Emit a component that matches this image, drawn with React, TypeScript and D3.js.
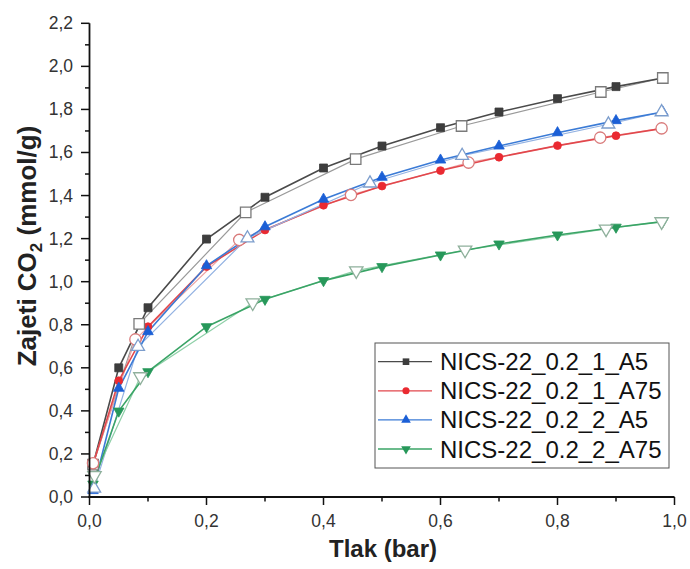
import React from "react";
import * as d3 from "d3";

const W = 690;
const H = 569;

const adsX = [0.006, 0.05, 0.1, 0.2, 0.3, 0.4, 0.5, 0.6, 0.7, 0.8, 0.9, 0.98];
const s1Ads = [0.15, 0.6, 0.879, 1.198, 1.392, 1.528, 1.63, 1.715, 1.788, 1.85, 1.906, 1.946];
const s2Ads = [0.15, 0.54, 0.791, 1.07, 1.24, 1.355, 1.444, 1.516, 1.578, 1.632, 1.678, 1.712];
const s3Ads = [0.03, 0.505, 0.768, 1.074, 1.255, 1.383, 1.485, 1.565, 1.63, 1.692, 1.748, 1.788];
const s4Ads = [0.06, 0.399, 0.582, 0.791, 0.918, 1.005, 1.07, 1.124, 1.175, 1.217, 1.253, 1.279];

const s1DesX = [0.98, 0.874, 0.636, 0.455, 0.267, 0.085, 0.006];
const s1Des = [1.946, 1.881, 1.723, 1.569, 1.322, 0.804, 0.15];
const s2DesX = [0.978, 0.873, 0.648, 0.447, 0.256, 0.0785, 0.006];
const s2Des = [1.712, 1.669, 1.553, 1.403, 1.194, 0.732, 0.157];
const s3DesX = [0.978, 0.887, 0.637, 0.4795, 0.27, 0.083, 0.008];
const s3Des = [1.788, 1.731, 1.585, 1.457, 1.202, 0.698, 0.04];
const s4DesX = [0.978, 0.883, 0.642, 0.456, 0.279, 0.087, 0.0085];
const s4Des = [1.279, 1.245, 1.147, 1.051, 0.902, 0.559, 0.1];

const seriesNames = [
  "NICS-22_0.2_1_A5",
  "NICS-22_0.2_1_A75",
  "NICS-22_0.2_2_A5",
  "NICS-22_0.2_2_A75",
];

const xTicks = [0, 0.2, 0.4, 0.6, 0.8, 1.0];
const yTicks = [0, 0.2, 0.4, 0.6, 0.8, 1.0, 1.2, 1.4, 1.6, 1.8, 2.0, 2.2];

const FONT = "'Liberation Sans', Arial, Helvetica, sans-serif";

type Style = {
  shape: "square" | "circle" | "up" | "down";
  line: string;
  marker: string;
  desLine: string;
  desMarker: string;
};

const styles: Style[] = [
  { shape: "square", line: "#4a4a4a", marker: "#3d3d3d", desLine: "#9a9a9a", desMarker: "#7a7a7a" },
  { shape: "circle", line: "#e2474c", marker: "#ea2a31", desLine: "#eca3a3", desMarker: "#d97b7b" },
  { shape: "up", line: "#3b7bd6", marker: "#1b5fd6", desLine: "#93b2e2", desMarker: "#7c9dcc" },
  { shape: "down", line: "#3aa466", marker: "#27985a", desLine: "#8fd0a8", desMarker: "#8fb09c" },
];

function symbolPath(shape: Style["shape"], size: number): { d: string; rot: number } {
  let type: d3.SymbolType = d3.symbolSquare;
  let rot = 0;
  if (shape === "circle") type = d3.symbolCircle;
  if (shape === "up") type = d3.symbolTriangle;
  if (shape === "down") {
    type = d3.symbolTriangle;
    rot = 180;
  }
  return { d: d3.symbol().type(type).size(size)() || "", rot };
}

const filledSize: Record<Style["shape"], number> = { square: 64, circle: 48, up: 48, down: 48 };
const openSize: Record<Style["shape"], number> = { square: 110, circle: 100, up: 72, down: 78 };

export default function App() {
  const x = d3.scaleLinear().domain([0, 1]).range([89.5, 674.5]);
  const y = d3.scaleLinear().domain([0, 2.2]).range([497, 23.3]);

  const ads = [s1Ads, s2Ads, s3Ads, s4Ads];
  const desX = [s1DesX, s2DesX, s3DesX, s4DesX];
  const des = [s1Des, s2Des, s3Des, s4Des];

  const line = d3
    .line<[number, number]>()
    .x((d) => x(d[0]))
    .y((d) => y(d[1]));

  const minorX = d3.range(0, 1.0001, 0.1);
  const minorY = d3.range(0, 2.2001, 0.1);

  const fmt = (v: number) => v.toFixed(1).replace(".", ",");

  return (
    <svg
      width={W}
      height={H}
      style={{ position: "absolute", left: 0, top: 0, background: "#fff" }}
      fontFamily={FONT}
    >
      <rect x={0} y={0} width={W} height={H} fill="#fff" />
      {/* lines */}
      {ads.map((vals, i) => {
        const st = styles[i];
        const adsPts: [number, number][] = adsX.map((xv, j) => [xv, vals[j]]);
        const desPts: [number, number][] = desX[i].map((xv, j) => [xv, des[i][j]]);
        return (
          <g key={"l" + i}>
            <path d={line(desPts) || ""} fill="none" stroke={st.desLine} strokeWidth={1.2} />
            <path d={line(adsPts) || ""} fill="none" stroke={st.line} strokeWidth={1.6} />
          </g>
        );
      })}
      {/* filled markers */}
      {ads.map((vals, i) => {
        const st = styles[i];
        const sym = symbolPath(st.shape, filledSize[st.shape]);
        return (
          <g key={"f" + i}>
            {adsX.map((xv, j) => (
              <path
                key={j}
                d={sym.d}
                transform={`translate(${x(xv)},${y(vals[j])}) rotate(${sym.rot})`}
                fill={st.marker}
                stroke={st.marker}
                strokeWidth={0.8}
              />
            ))}
          </g>
        );
      })}
      {/* open markers */}
      {des.map((vals, i) => {
        const st = styles[i];
        const sym = symbolPath(st.shape, openSize[st.shape]);
        return (
          <g key={"o" + i}>
            {desX[i].map((xv, j) => (
              <path
                key={j}
                d={sym.d}
                transform={`translate(${x(xv)},${y(vals[j])}) rotate(${sym.rot})`}
                fill="#fff"
                stroke={st.desMarker}
                strokeWidth={1.3}
              />
            ))}
          </g>
        );
      })}

      {/* axes */}
      <g stroke="#111" strokeWidth={1.8}>
        <line x1={x(0)} x2={x(0)} y1={y(2.2)} y2={y(0) + 1} />
        <line x1={x(0) - 1} x2={x(1)} y1={y(0)} y2={y(0)} />
      </g>
      <g stroke="#111" strokeWidth={1.5}>
        {minorX.map((v, i) => (
          <line
            key={"mx" + i}
            x1={x(v)}
            x2={x(v)}
            y1={y(0)}
            y2={y(0) + (i % 2 === 0 ? 8 : 4.5)}
          />
        ))}
        {minorY.map((v, i) => (
          <line
            key={"my" + i}
            x1={x(0)}
            x2={x(0) - (i % 2 === 0 ? 8.5 : 4.5)}
            y1={y(v)}
            y2={y(v)}
          />
        ))}
      </g>
      <g fontSize={17.5} fill="#333">
        {xTicks.map((v) => (
          <text key={"xt" + v} x={x(v)} y={527} textAnchor="middle">
            {fmt(v)}
          </text>
        ))}
        {yTicks.map((v) => (
          <text key={"yt" + v} x={73} y={y(v) + 6} textAnchor="end">
            {fmt(v)}
          </text>
        ))}
      </g>
      <text x={383} y={557} textAnchor="middle" fontWeight="bold" fontSize={24} fill="#222">
        Tlak (bar)
      </text>
      <text
        transform="translate(36,246) rotate(-90)"
        textAnchor="middle"
        fontWeight="bold"
        fontSize={26}
        fill="#222"
      >
        Zajeti CO
        <tspan fontSize={17} dy={6}>
          2
        </tspan>
        <tspan dy={-6}> (mmol/g)</tspan>
      </text>

      {/* legend */}
      <rect x={375} y={343} width={294} height={125} fill="#fff" stroke="#555" strokeWidth={1} />
      {seriesNames.map((name, i) => {
        const st = styles[i];
        const ly = 361.7 + i * 29.1;
        const sym = symbolPath(st.shape, st.shape === "square" ? 44 : 40);
        return (
          <g key={"lg" + i}>
            <line x1={378} x2={432} y1={ly} y2={ly} stroke={st.line} strokeWidth={1.3} />
            <path
              d={sym.d}
              transform={`translate(406,${ly}) rotate(${sym.rot})`}
              fill={st.marker}
            />
            <text x={440} y={ly + 8.5} fontSize={24} fill="#111">
              {name}
            </text>
          </g>
        );
      })}
    </svg>
  );
}
